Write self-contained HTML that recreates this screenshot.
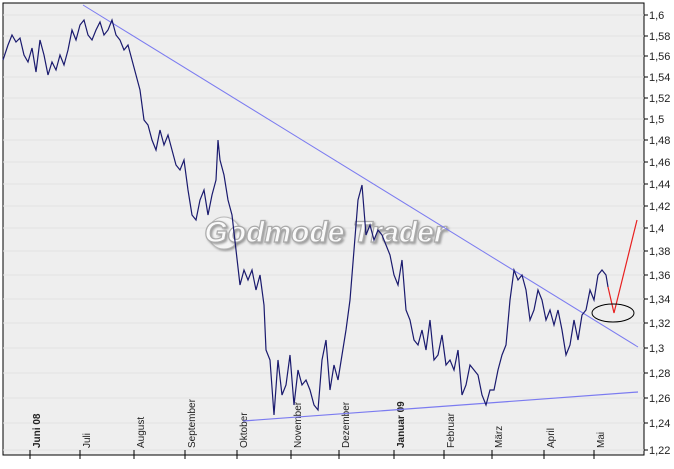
<!DOCTYPE html>
<html><head><meta charset="utf-8"><style>
body{margin:0;background:#fff;width:674px;height:464px;overflow:hidden}
svg text{font-family:"Liberation Sans",sans-serif;font-size:11px;fill:#222}
</style></head><body>
<svg width="674" height="464" viewBox="0 0 674 464">
<defs><filter id="sh"><feDropShadow dx="1.5" dy="1.5" stdDeviation="1" flood-color="#888" flood-opacity="0.8"/></filter></defs>
<rect x="3" y="3" width="641" height="452" fill="#eeeeee" stroke="#000" stroke-width="1"/>
<g stroke="#e2e2e2" stroke-width="1">
<line x1="3" x2="644" y1="15" y2="15"/><line x1="3" x2="644" y1="36" y2="36"/><line x1="3" x2="644" y1="56" y2="56"/><line x1="3" x2="644" y1="77" y2="77"/><line x1="3" x2="644" y1="98" y2="98"/><line x1="3" x2="644" y1="119" y2="119"/><line x1="3" x2="644" y1="140" y2="140"/><line x1="3" x2="644" y1="162" y2="162"/><line x1="3" x2="644" y1="184" y2="184"/><line x1="3" x2="644" y1="206" y2="206"/><line x1="3" x2="644" y1="228" y2="228"/><line x1="3" x2="644" y1="251" y2="251"/><line x1="3" x2="644" y1="275" y2="275"/><line x1="3" x2="644" y1="299" y2="299"/><line x1="3" x2="644" y1="323" y2="323"/><line x1="3" x2="644" y1="348" y2="348"/><line x1="3" x2="644" y1="373" y2="373"/><line x1="3" x2="644" y1="398" y2="398"/><line x1="3" x2="644" y1="423" y2="423"/><line x1="3" x2="644" y1="450" y2="450"/>
</g>
<g stroke="#000"><line x1="644" x2="648" y1="15" y2="15"/><line x1="644" x2="648" y1="36" y2="36"/><line x1="644" x2="648" y1="56" y2="56"/><line x1="644" x2="648" y1="77" y2="77"/><line x1="644" x2="648" y1="98" y2="98"/><line x1="644" x2="648" y1="119" y2="119"/><line x1="644" x2="648" y1="140" y2="140"/><line x1="644" x2="648" y1="162" y2="162"/><line x1="644" x2="648" y1="184" y2="184"/><line x1="644" x2="648" y1="206" y2="206"/><line x1="644" x2="648" y1="228" y2="228"/><line x1="644" x2="648" y1="251" y2="251"/><line x1="644" x2="648" y1="275" y2="275"/><line x1="644" x2="648" y1="299" y2="299"/><line x1="644" x2="648" y1="323" y2="323"/><line x1="644" x2="648" y1="348" y2="348"/><line x1="644" x2="648" y1="373" y2="373"/><line x1="644" x2="648" y1="398" y2="398"/><line x1="644" x2="648" y1="423" y2="423"/><line x1="644" x2="648" y1="450" y2="450"/>
<line x1="30" x2="30" y1="450" y2="459"/><line x1="80" x2="80" y1="450" y2="459"/><line x1="134" x2="134" y1="450" y2="459"/><line x1="185" x2="185" y1="450" y2="459"/><line x1="237" x2="237" y1="450" y2="459"/><line x1="291" x2="291" y1="450" y2="459"/><line x1="339" x2="339" y1="450" y2="459"/><line x1="394" x2="394" y1="450" y2="459"/><line x1="444" x2="444" y1="450" y2="459"/><line x1="492" x2="492" y1="450" y2="459"/><line x1="544" x2="544" y1="450" y2="459"/><line x1="594" x2="594" y1="450" y2="459"/></g>
<g>
<text x="649" y="19">1,6</text><text x="649" y="40">1,58</text><text x="649" y="60">1,56</text><text x="649" y="81">1,54</text><text x="649" y="102">1,52</text><text x="649" y="123">1,5</text><text x="649" y="144">1,48</text><text x="649" y="166">1,46</text><text x="649" y="188">1,44</text><text x="649" y="210">1,42</text><text x="649" y="232">1,4</text><text x="649" y="255">1,38</text><text x="649" y="279">1,36</text><text x="649" y="303">1,34</text><text x="649" y="327">1,32</text><text x="649" y="352">1,3</text><text x="649" y="377">1,28</text><text x="649" y="402">1,26</text><text x="649" y="427">1,24</text><text x="649" y="454">1,22</text>
</g>
<g style="font-size:10px">
<text transform="translate(40,448) rotate(-90)" style="font-weight:bold;font-size:10px">Juni 08</text>
<text transform="translate(90,448) rotate(-90)" style="font-size:10px">Juli</text>
<text transform="translate(144,448) rotate(-90)" style="font-size:10px">August</text>
<text transform="translate(195,448) rotate(-90)" style="font-size:10px">September</text>
<text transform="translate(247,448) rotate(-90)" style="font-size:10px">Oktober</text>
<text transform="translate(301,448) rotate(-90)" style="font-size:10px">November</text>
<text transform="translate(349,448) rotate(-90)" style="font-size:10px">Dezember</text>
<text transform="translate(404,448) rotate(-90)" style="font-weight:bold;font-size:10px">Januar 09</text>
<text transform="translate(454,448) rotate(-90)" style="font-size:10px">Februar</text>
<text transform="translate(502,448) rotate(-90)" style="font-size:10px">März</text>
<text transform="translate(554,448) rotate(-90)" style="font-size:10px">April</text>
<text transform="translate(604,448) rotate(-90)" style="font-size:10px">Mai</text>
</g>
<circle cx="224" cy="233" r="16" fill="#f4f4f4" stroke="#b8b8b8" filter="url(#sh)"/>
<text x="325" y="242" text-anchor="middle" filter="url(#sh)" style="font-size:30px;font-weight:bold;font-style:italic;fill:#fafafa;stroke:#aaaaaa;stroke-width:1.2">Godmode Trader</text>
<line x1="83" y1="5" x2="638" y2="347" stroke="#7b7bf0" stroke-width="1"/>
<line x1="243" y1="421" x2="638" y2="392" stroke="#7b7bf0" stroke-width="1.2"/>
<polyline fill="none" stroke="#1a1a6e" stroke-width="1.2" points="3,60 8,45 12,35 16,42 20,38 24,55 28,62 32,48 36,72 40,40 44,55 48,75 52,62 56,70 60,55 64,65 68,50 72,30 76,40 80,25 84,20 88,35 92,40 96,30 100,22 104,35 108,30 112,20 116,35 120,40 124,50 128,45 132,60 136,75 140,90 144,120 148,125 152,140 156,150 160,130 164,145 168,135 172,150 176,165 180,170 184,160 188,190 192,215 196,220 200,200 204,190 208,215 212,195 216,180 218,140 220,160 224,175 228,200 232,215 236,250 240,285 244,270 248,280 252,270 256,290 260,275 264,305 266,350 270,360 274,415 278,360 282,395 286,385 290,355 294,405 298,370 302,385 306,380 310,390 314,405 318,410 322,360 326,340 330,390 334,365 338,380 342,355 346,330 350,300 354,250 358,200 362,185 366,235 370,225 374,240 378,230 382,235 386,245 390,255 394,275 398,285 402,260 406,310 410,320 414,340 418,345 422,330 426,350 430,320 434,360 438,355 442,335 446,365 450,360 454,370 458,350 462,395 466,385 470,365 474,370 478,375 482,395 486,405 490,390 494,390 498,370 502,355 506,345 510,300 514,270 518,280 522,275 526,290 530,320 534,310 538,290 542,300 546,320 550,310 554,325 558,310 562,330 566,355 570,345 574,320 578,340 582,315 586,310 590,290 594,300 598,275 602,270 606,275 608,287"/>
<polyline fill="none" stroke="#e82020" stroke-width="1.2" points="608,287 614,313 637,220"/>
<ellipse cx="613" cy="313" rx="21" ry="9" fill="none" stroke="#000" stroke-width="1"/>
</svg>
</body></html>
